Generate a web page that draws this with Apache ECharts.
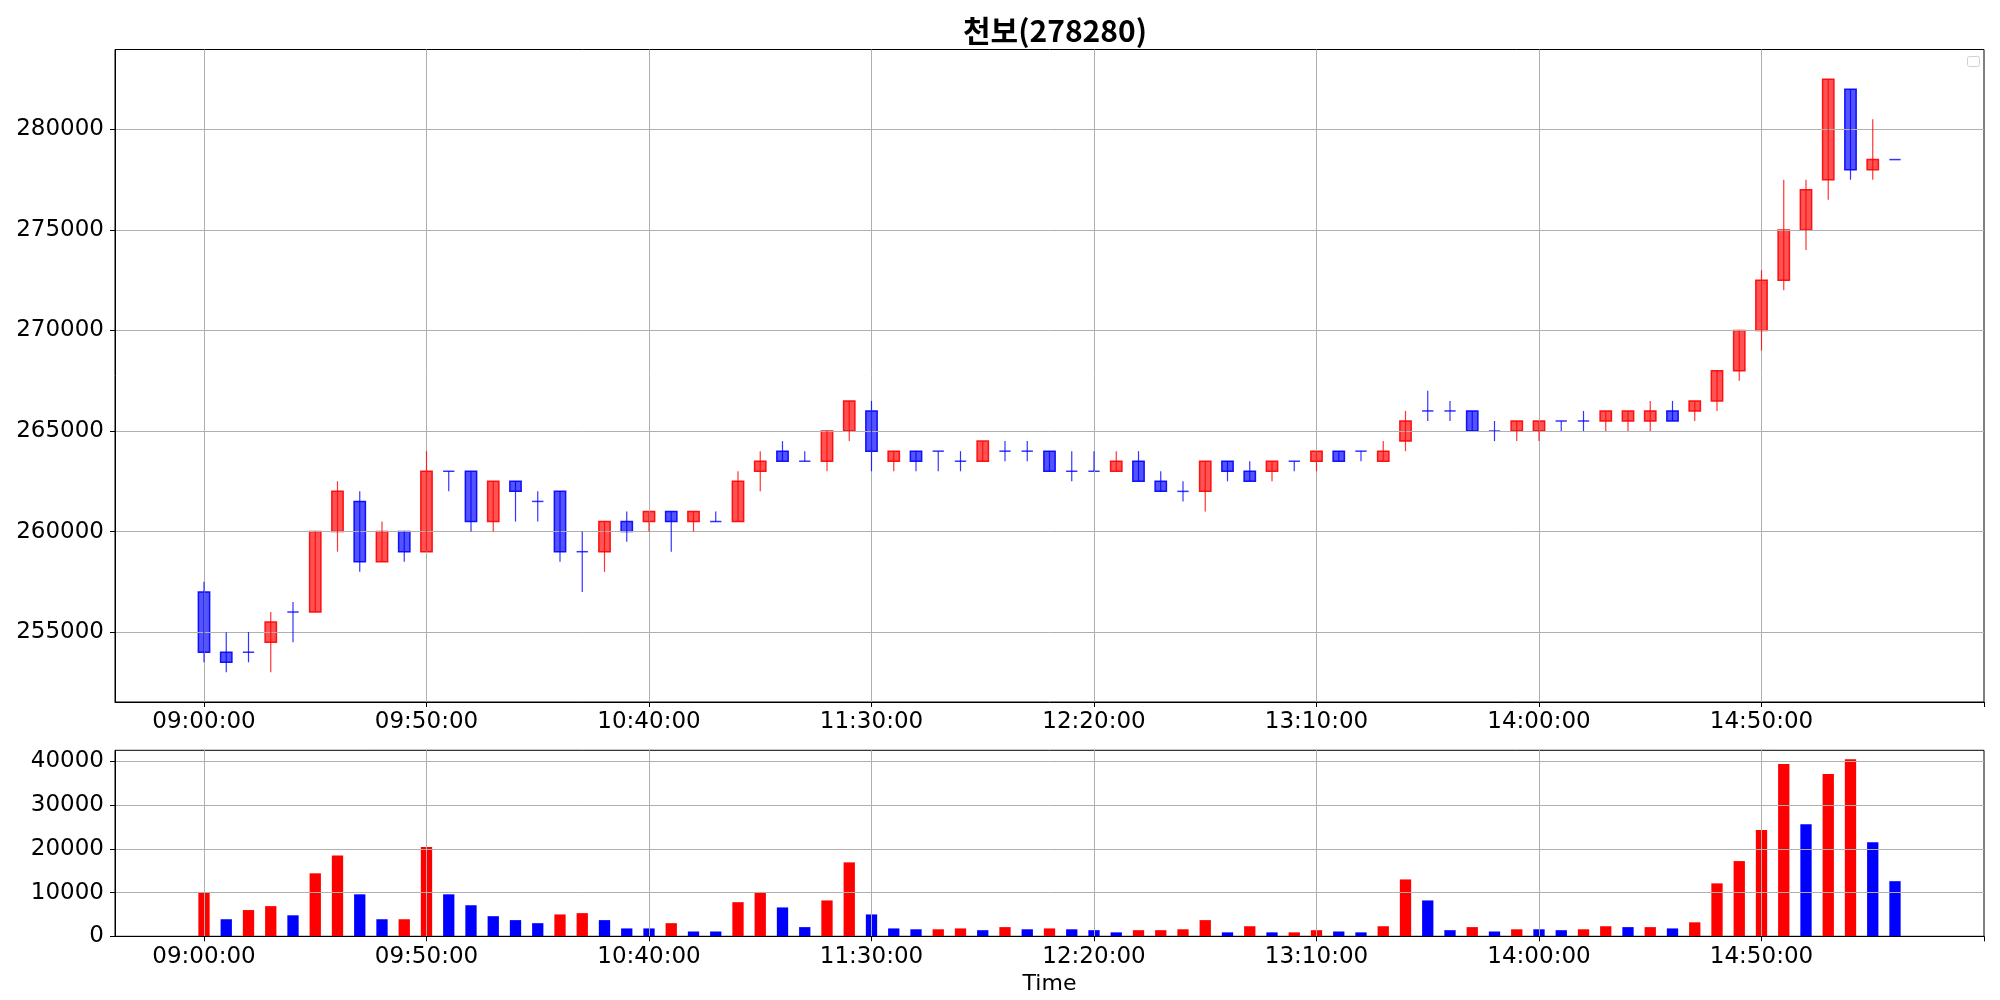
<!DOCTYPE html>
<html>
<head>
<meta charset="utf-8">
<title>천보(278280)</title>
<script src="https://cdn.jsdelivr.net/npm/echarts@6/dist/echarts.min.js"></script>
<style>
  html, body { margin: 0; padding: 0; background: #fff; }
  #chart { width: 2000px; height: 1000px; }
</style>
</head>
<body>
<div id="chart"></div>
<script>
// 5분봉 시간
var padBefore = ['08:40:00', '08:45:00', '08:50:00', '08:55:00'];
var times = [
  '09:00:00', '09:05:00', '09:10:00', '09:15:00', '09:20:00', '09:25:00', '09:30:00', '09:35:00', '09:40:00', '09:45:00', '09:50:00', '09:55:00',
  '10:00:00', '10:05:00', '10:10:00', '10:15:00', '10:20:00', '10:25:00', '10:30:00', '10:35:00', '10:40:00', '10:45:00', '10:50:00', '10:55:00',
  '11:00:00', '11:05:00', '11:10:00', '11:15:00', '11:20:00', '11:25:00', '11:30:00', '11:35:00', '11:40:00', '11:45:00', '11:50:00', '11:55:00',
  '12:00:00', '12:05:00', '12:10:00', '12:15:00', '12:20:00', '12:25:00', '12:30:00', '12:35:00', '12:40:00', '12:45:00', '12:50:00', '12:55:00',
  '13:00:00', '13:05:00', '13:10:00', '13:15:00', '13:20:00', '13:25:00', '13:30:00', '13:35:00', '13:40:00', '13:45:00', '13:50:00', '13:55:00',
  '14:00:00', '14:05:00', '14:10:00', '14:15:00', '14:20:00', '14:25:00', '14:30:00', '14:35:00', '14:40:00', '14:45:00', '14:50:00', '14:55:00',
  '15:00:00', '15:05:00', '15:10:00', '15:15:00', '15:20:00'
];
var padAfter = ['15:25:00', '15:30:00', '15:35:00', '15:40:00'];

var opens = [
  257000, 254000, 254000, 254500, 256000, 256000, 260000, 261500, 258500, 260000, 259000, 263000,
  263000, 260500, 262500, 261500, 262000, 259000, 259000, 260500, 260500, 261000, 260500, 260500,
  260500, 263000, 264000, 263500, 263500, 265000, 266000, 263500, 264000, 264000, 263500, 263500,
  264000, 264000, 264000, 263000, 263000, 263000, 263500, 262500, 262000, 262000, 263500, 263000,
  263000, 263500, 263500, 264000, 264000, 263500, 264500, 266000, 266000, 266000, 265000, 265000,
  265000, 265500, 265500, 265500, 265500, 265500, 266000, 266000, 266500, 268000, 270000, 272500,
  275000, 277500, 282000, 278000, 278500
];
var closes = [
  254000, 253500, 254000, 255500, 256000, 260000, 262000, 258500, 260000, 259000, 263000, 263000,
  260500, 262500, 262000, 261500, 259000, 259000, 260500, 260000, 261000, 260500, 261000, 260500,
  262500, 263500, 263500, 263500, 265000, 266500, 264000, 264000, 263500, 264000, 263500, 264500,
  264000, 264000, 263000, 263000, 263000, 263500, 262500, 262000, 262000, 263500, 263000, 262500,
  263500, 263500, 264000, 263500, 264000, 264000, 265500, 266000, 266000, 265000, 265000, 265500,
  265500, 265500, 265500, 266000, 266000, 266000, 265500, 266500, 268000, 270000, 272500, 275000,
  277000, 282500, 278000, 278500, 278500
];
var lows = [
  253500, 253000, 253500, 253000, 254500, 256000, 259000, 258000, 258500, 258500, 259000, 262000,
  260000, 260000, 260500, 260500, 258500, 257000, 258000, 259500, 260000, 259000, 260000, 260500,
  260500, 262000, 263500, 263500, 263000, 264500, 263000, 263000, 263000, 263000, 263000, 263500,
  263500, 263500, 263000, 262500, 263000, 263000, 262500, 262000, 261500, 261000, 262500, 262500,
  262500, 263000, 263000, 263500, 263500, 263500, 264000, 265500, 265500, 265000, 264500, 264500,
  264500, 265000, 265000, 265000, 265000, 265000, 265500, 265500, 266000, 267500, 269000, 272000,
  274000, 276500, 277500, 277500, 278500
];
var highs = [
  257500, 255000, 255000, 256000, 256500, 260000, 262500, 262000, 260500, 260000, 264000, 263000,
  263000, 262500, 262500, 262000, 262000, 260000, 260500, 261000, 261000, 261000, 261000, 261000,
  263000, 264000, 264500, 264000, 265000, 266500, 266500, 264000, 264000, 264000, 264000, 264500,
  264500, 264500, 264000, 264000, 264000, 264000, 264000, 263000, 262500, 263500, 263500, 263500,
  263500, 263500, 264000, 264000, 264000, 264500, 266000, 267000, 266500, 266000, 265500, 265500,
  265500, 265500, 266000, 266000, 266000, 266500, 266500, 266500, 268000, 270000, 273000, 277500,
  277500, 282500, 282000, 280500, 278500
];

// 거래량 (1 = 빨강, 0 = 파랑)
var volumes = [
  9900, 3900, 6000, 6900, 4800, 14400, 18500, 9600, 3900, 3900, 20400, 9600,
  7100, 4600, 3700, 3000, 5000, 5300, 3700, 1800, 1800, 3000, 1100, 1100,
  7800, 9900, 6600, 2100, 8200, 16900, 5000, 1800, 1600, 1600, 1800, 1400,
  2100, 1600, 1800, 1600, 1400, 900, 1400, 1400, 1600, 3700, 900, 2300,
  900, 900, 1400, 1100, 900, 2300, 13000, 8200, 1400, 2100, 1100, 1600,
  1600, 1400, 1600, 2300, 2100, 2100, 1800, 3200, 12100, 17200, 24300, 39400,
  25600, 37100, 40500, 21500, 12600
];
var volUp = [
  1, 0, 1, 1, 0, 1, 1, 0, 0, 1, 1, 0,
  0, 0, 0, 0, 1, 1, 0, 0, 0, 1, 0, 0,
  1, 1, 0, 0, 1, 1, 0, 0, 0, 1, 1, 0,
  1, 0, 1, 0, 0, 0, 1, 1, 1, 1, 0, 1,
  0, 1, 1, 0, 0, 1, 1, 0, 0, 1, 0, 1,
  0, 0, 1, 1, 0, 1, 0, 1, 1, 1, 1, 1,
  0, 1, 1, 0, 0
];

var priceTicks = [255000, 260000, 265000, 270000, 275000, 280000];
var volTicks = [0, 10000, 20000, 30000, 40000];

var axisTimes = padBefore.concat(times, padAfter);

var RED = '#ff0000', BLUE = '#0000ff';
var RED_FILL = 'rgba(255,0,0,0.75)', BLUE_FILL = 'rgba(0,0,255,0.75)';

var candleData = [];
for (var i = 0; i < times.length; i++) {
  candleData.push([times[i], opens[i], closes[i], lows[i], highs[i]]);
}
var volData = [];
for (var j = 0; j < times.length; j++) {
  volData.push({
    value: [times[j], volumes[j]],
    itemStyle: { color: volUp[j] ? RED : BLUE }
  });
}

// 09:00부터 50분 간격
function onTick(index) { return (index - 4) % 10 === 0; }
function onLabel(index) { return onTick(index) && index < axisTimes.length - 1; }

function renderBody(params, api) {
  var x = api.value(0);
  var o = api.value(1), c = api.value(2);
  var pO = api.coord([x, o]);
  var pC = api.coord([x, c]);
  var w = 11.3;
  var up = c > o;
  var top = Math.min(pO[1], pC[1]);
  var h = Math.abs(pO[1] - pC[1]);
  if (h < 0.5) {
    return {
      type: 'line',
      shape: { x1: pO[0] - w / 2, y1: pO[1], x2: pO[0] + w / 2, y2: pO[1] },
      style: { stroke: up ? RED : BLUE, lineWidth: 1.5, opacity: 0.8 }
    };
  }
  return {
    type: 'rect',
    shape: { x: pO[0] - w / 2, y: top, width: w, height: h },
    style: { fill: up ? RED_FILL : BLUE_FILL, stroke: up ? RED : BLUE, lineWidth: 1.5, opacity: 0.9 }
  };
}

function renderWick(params, api) {
  var x = api.value(0);
  var up = api.value(2) > api.value(1);
  var pL = api.coord([x, api.value(3)]);
  var pH = api.coord([x, api.value(4)]);
  return {
    type: 'line',
    shape: { x1: pL[0], y1: pL[1], x2: pH[0], y2: pH[1] },
    style: { stroke: up ? RED : BLUE, lineWidth: 1.2, opacity: 0.8 }
  };
}

var labelFont = { color: '#000', fontSize: 23, fontFamily: 'DejaVu Sans' };
var gridLine = { color: '#b0b0b0', width: 1 };
var blackLine = { color: '#000', width: 1 };

function plain(v) { return String(v); }

function makeXAxis(gridIndex, extra) {
  var ax = {
    type: 'category',
    gridIndex: gridIndex,
    data: axisTimes,
    boundaryGap: false,
    z: 3,
    axisLine: { show: true, onZero: false, lineStyle: blackLine },
    axisTick: { show: true, interval: onTick, length: 5, lineStyle: blackLine },
    axisLabel: {
      interval: onLabel, margin: 9,
      color: labelFont.color, fontSize: labelFont.fontSize, fontFamily: labelFont.fontFamily
    },
    splitLine: { show: true, interval: onLabel, lineStyle: gridLine }
  };
  for (var k in extra) ax[k] = extra[k];
  return ax;
}

var chart = echarts.init(document.getElementById('chart'));
chart.setOption({
  animation: false,
  backgroundColor: '#fff',
  title: {
    text: '천보(278280)',
    left: 1050,
    top: 11,
    textAlign: 'center',
    textStyle: { color: '#000', fontSize: 30, fontWeight: 'bold', fontFamily: 'Noto Sans CJK KR' }
  },
  graphic: [{
    type: 'rect',
    left: 1967, top: 56,
    shape: { width: 12, height: 10, r: 2 },
    style: { fill: '#fff', stroke: '#d0d0d0', lineWidth: 1 },
    z: 10
  }],
  grid: [
    { left: 115, right: 16, top: 49.5, height: 652.5, show: true, borderColor: '#000', borderWidth: 1, backgroundColor: '#fff', outerBoundsMode: 'none' },
    { left: 115, right: 16, top: 750.3, height: 186, show: true, borderColor: '#000', borderWidth: 1, backgroundColor: '#fff', outerBoundsMode: 'none' }
  ],
  xAxis: [
    makeXAxis(0, {}),
    makeXAxis(1, {
      name: 'Time',
      nameLocation: 'middle',
      nameGap: 37,
      nameTextStyle: { color: '#000', fontSize: 22, fontFamily: 'DejaVu Sans' }
    })
  ],
  yAxis: [
    {
      type: 'value',
      gridIndex: 0,
      min: 251525,
      max: 283975,
      z: 3,
      axisLine: { show: true, lineStyle: blackLine },
      axisTick: { show: true, length: 5, lineStyle: blackLine, customValues: priceTicks },
      axisLabel: {
        margin: 11, customValues: priceTicks, formatter: plain,
        color: labelFont.color, fontSize: labelFont.fontSize, fontFamily: labelFont.fontFamily
      },
      splitLine: { show: true, lineStyle: gridLine }
    },
    {
      type: 'value',
      gridIndex: 1,
      min: 0,
      max: 42525,
      z: 3,
      axisLine: { show: true, lineStyle: blackLine },
      axisTick: { show: true, length: 5, lineStyle: blackLine, customValues: volTicks },
      axisLabel: {
        margin: 11, customValues: volTicks, formatter: plain,
        color: labelFont.color, fontSize: labelFont.fontSize, fontFamily: labelFont.fontFamily
      },
      splitLine: { show: true, lineStyle: gridLine }
    }
  ],
  series: [
    {
      name: 'body',
      type: 'custom',
      xAxisIndex: 0,
      yAxisIndex: 0,
      z: 1,
      renderItem: renderBody,
      encode: { x: 0, y: [1, 2, 3, 4] },
      data: candleData
    },
    {
      name: 'wick',
      type: 'custom',
      xAxisIndex: 0,
      yAxisIndex: 0,
      z: 5,
      renderItem: renderWick,
      encode: { x: 0, y: [1, 2, 3, 4] },
      data: candleData
    },
    {
      name: 'volume',
      type: 'bar',
      xAxisIndex: 1,
      yAxisIndex: 1,
      z: 1,
      barWidth: 11.3,
      data: volData
    }
  ]
});
</script>
</body>
</html>
